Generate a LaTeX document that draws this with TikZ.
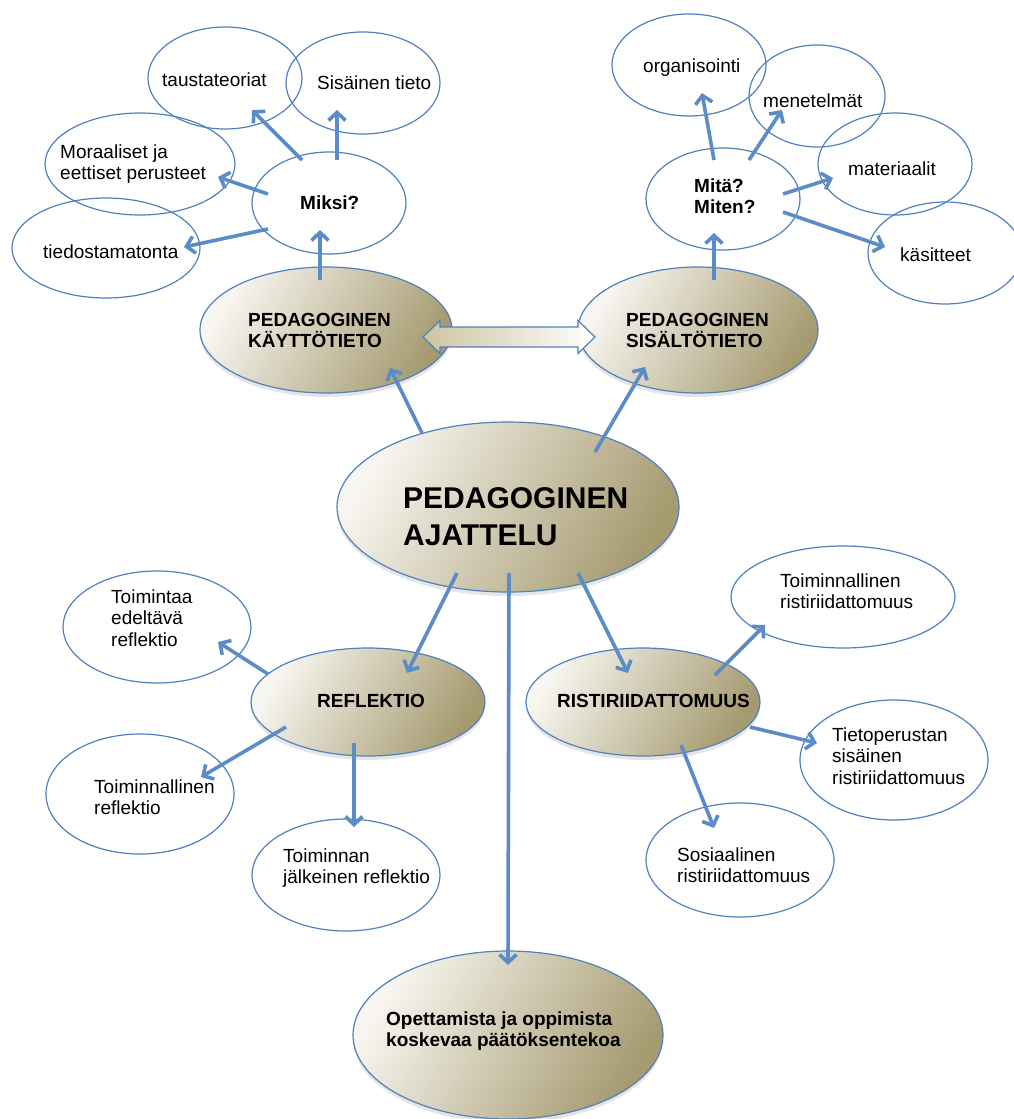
\documentclass[tikz,border=0pt]{standalone}
\usepackage{fontspec}
\setmainfont{Liberation Sans}
\usetikzlibrary{shapes.geometric,arrows.meta,calc,shadows}
\definecolor{ebl}{RGB}{79,129,189}
\definecolor{abl}{RGB}{92,140,200}
\definecolor{gl}{RGB}{248,246,240}
\definecolor{gd}{RGB}{165,154,112}
\definecolor{dal}{RGB}{205,196,160}
\begin{document}
\begin{tikzpicture}[x=1pt,y=-1pt,
  sell/.style={ellipse, draw=ebl, line width=1.2pt, inner sep=0pt},
  mell/.style={ellipse, draw=ebl, line width=1.2pt, inner sep=0pt, left color=gl, right color=gd, shading angle=60, drop shadow={opacity=0.2,shadow xshift=0pt,shadow yshift=-4pt}},
  txt/.style={anchor=base west, inner sep=0pt, align=left, font=\fontsize{19}{21.5}\selectfont},
  btxt/.style={txt, font=\fontsize{19}{21.5}\selectfont\bfseries},
  ctxt/.style={txt, font=\fontsize{30}{37}\selectfont\bfseries},
  arr/.style={draw=abl, line width=3.6pt, -{Straight Barb[length=8pt,width=17pt]}}
]
\fill[white] (0,0) rectangle (1014,1119);
\useasboundingbox (0,0) rectangle (1014,1119);

% main (shaded) ellipses
\node[mell, minimum width=252pt, minimum height=126pt] (pk) at (326,330) {};
\node[mell, minimum width=240pt, minimum height=126pt] (ps) at (698,330) {};
\node[mell, minimum width=342pt, minimum height=170pt] (pa) at (508,507) {};
\node[mell, minimum width=234pt, minimum height=108pt] (refl) at (368,702) {};
\node[mell, minimum width=234pt, minimum height=108pt] (risti) at (643,702) {};
\node[mell, minimum width=310pt, minimum height=168pt] (pt) at (508,1035) {};

% small ellipses
\node[sell, minimum width=154pt, minimum height=102pt] (taus) at (225,78) {};
\node[sell, minimum width=154pt, minimum height=102pt] (sis) at (363,83) {};
\node[sell, minimum width=190pt, minimum height=102pt] (mor) at (140,164) {};
\node[sell, minimum width=188pt, minimum height=100pt] (tied) at (106,248) {};
\node[sell, minimum width=154pt, minimum height=102pt] (miksi) at (329,203) {};
\node[sell, minimum width=154pt, minimum height=102pt] (org) at (689,65) {};
\node[sell, minimum width=136pt, minimum height=102pt] (men) at (817,96) {};
\node[sell, minimum width=154pt, minimum height=102pt] (mat) at (895,164) {};
\node[sell, minimum width=154pt, minimum height=102pt] (kas) at (945,253) {};
\node[sell, minimum width=154pt, minimum height=102pt] (mita) at (723,199) {};
\node[sell, minimum width=188pt, minimum height=112pt] (tea) at (157,627) {};
\node[sell, minimum width=188pt, minimum height=120pt] (tref) at (140,794) {};
\node[sell, minimum width=188pt, minimum height=112pt] (jref) at (346,875) {};
\node[sell, minimum width=224pt, minimum height=102pt] (tris) at (843,597) {};
\node[sell, minimum width=188pt, minimum height=120pt] (tiet) at (894,760) {};
\node[sell, minimum width=188pt, minimum height=114pt] (sos) at (740,860) {};

% texts (anchor = baseline of the last line)
\node[txt] (taus-t) at ($(taus)+(-63,8)$) {taustateoriat};
\node[txt] (sis-t) at ($(sis)+(-46,6)$) {Sisäinen tieto};
\node[txt] (mor-t) at ($(mor)+(-80,15.5)$) {Moraaliset ja\\eettiset perusteet};
\node[txt] (tied-t) at ($(tied)+(-63,10)$) {tiedostamatonta};
\node[btxt] (miksi-t) at ($(miksi)+(-29,6)$) {Miksi?};
\node[txt] (org-t) at ($(org)+(-46,7)$) {organisointi};
\node[txt] (men-t) at ($(men)+(-54,11)$) {menetelmät};
\node[txt] (mat-t) at ($(mat)+(-47,11)$) {materiaalit};
\node[txt] (kas-t) at ($(kas)+(-45,8)$) {käsitteet};
\node[btxt] (mita-t) at ($(mita)+(-29,14.5)$) {Mitä?\\Miten?};
\node[btxt] (pk-t) at ($(pk)+(-78,17.5)$) {PEDAGOGINEN\\KÄYTTÖTIETO};
\node[btxt] (ps-t) at ($(ps)+(-72,17.5)$) {PEDAGOGINEN\\SISÄLTÖTIETO};
\node[ctxt] (pa-t) at ($(pa)+(-105,38)$) {PEDAGOGINEN\\AJATTELU};
\node[txt] (tea-t) at ($(tea)+(-46,19)$) {Toimintaa\\edeltävä\\reflektio};
\node[btxt] (refl-t) at ($(refl)+(-51,5)$) {REFLEKTIO};
\node[txt] (tref-t) at ($(tref)+(-46,20.5)$) {Toiminnallinen\\reflektio};
\node[txt] (jref-t) at ($(jref)+(-63,8.5)$) {Toiminnan\\jälkeinen reflektio};
\node[txt] (tris-t) at ($(tris)+(-63,11.5)$) {Toiminnallinen\\ristiriidattomuus};
\node[btxt] (risti-t) at ($(risti)+(-86,5)$) {RISTIRIIDATTOMUUS};
\node[txt] (tiet-t) at ($(tiet)+(-62,24)$) {Tietoperustan\\sisäinen\\ristiriidattomuus};
\node[txt] (sos-t) at ($(sos)+(-63,22.5)$) {Sosiaalinen\\ristiriidattomuus};
\node[btxt] (pt-t) at ($(pt)+(-122,11.5)$) {Opettamista ja oppimista\\koskevaa päätöksentekoa};

% double arrow between the two knowledge ellipses
\coordinate (dl) at ($(pk)+(97,7)$);
\coordinate (dr) at ($(ps)+(-103,7)$);
\draw[draw=ebl, line width=1.2pt, left color=dal, right color=white]
  (dl) -- ($(dl)+(17,-16.5)$) -- ($(dl)+(17,-10)$) -- ($(dr)+(-17,-10)$)
  -- ($(dr)+(-17,-16.5)$) -- (dr) -- ($(dr)+(-17,16.5)$) -- ($(dr)+(-17,10)$)
  -- ($(dl)+(17,10)$) -- ($(dl)+(17,16.5)$) -- cycle;

% arrows
\draw[arr] ($(pk)+(-6,-50)$) -- ($(miksi)+(-9,27)$);
\draw[arr] ($(miksi)+(-27,-43)$) -- ($(taus)+(27,32)$);
\draw[arr] ($(miksi)+(8,-43)$) -- ($(sis)+(-26,27)$);
\draw[arr] ($(miksi)+(-61,-9)$) -- ($(mor)+(78,13)$);
\draw[arr] ($(miksi)+(-61,26)$) -- ($(tied)+(78,-1)$);
\draw[arr] ($(ps)+(16,-50)$) -- ($(mita)+(-9,34)$);
\draw[arr] ($(mita)+(-9,-39)$) -- ($(org)+(13,28)$);
\draw[arr] ($(mita)+(26,-39)$) -- ($(men)+(-35,14)$);
\draw[arr] ($(mita)+(60,-5)$) -- ($(mat)+(-62,14)$);
\draw[arr] ($(mita)+(60,13)$) -- ($(kas)+(-60,-6)$);
\draw[arr] ($(pa)+(-86,-74)$) -- ($(pk)+(64,38)$);
\draw[arr] ($(pa)+(87,-55)$) -- ($(ps)+(-53,37)$);
\draw[arr] ($(pa)+(-51,66)$) -- ($(refl)+(39,-29)$);
\draw[arr] ($(pa)+(1,66)$) -- ($(pt)+(0,-70)$);
\draw[arr] ($(pa)+(70,66)$) -- ($(risti)+(-15,-29)$);
\draw[arr] ($(refl)+(-100,-28)$) -- ($(tea)+(61,15)$);
\draw[arr] ($(refl)+(-82,25)$) -- ($(tref)+(61,-17)$);
\draw[arr] ($(refl)+(-14,41)$) -- ($(jref)+(8,-48)$);
\draw[arr] ($(risti)+(72,-27)$) -- ($(tris)+(-78,28)$);
\draw[arr] ($(risti)+(107,25)$) -- ($(tiet)+(-77,-17)$);
\draw[arr] ($(risti)+(38,43)$) -- ($(sos)+(-26,-32)$);
\end{tikzpicture}
\end{document}
